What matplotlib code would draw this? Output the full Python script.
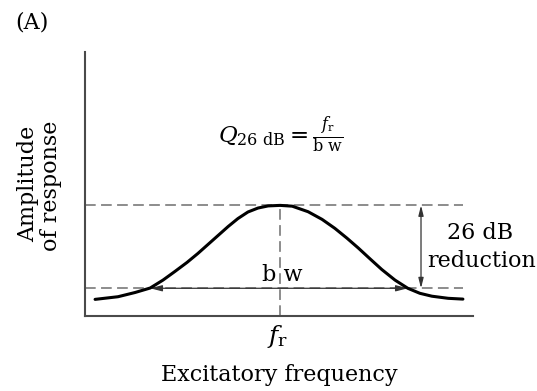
import matplotlib
matplotlib.use("Agg")
import matplotlib.pyplot as plt

plt.rcParams['font.family'] = ['DejaVu Serif']
plt.rcParams['mathtext.fontset'] = 'custom'
plt.rcParams['mathtext.rm'] = 'DejaVu Serif'
plt.rcParams['mathtext.it'] = 'DejaVu Serif:italic'

# tuning curve: excitatory frequency vs amplitude of response (axis units 0-10)
freq = [0.26, 0.85, 1.29, 1.68, 2.01, 2.32, 2.63, 2.91, 3.17, 3.43, 3.69, 3.94,
        4.20, 4.46, 4.72, 5.03, 5.34, 5.75, 6.11, 6.44, 6.75, 7.04, 7.35, 7.65,
        7.99, 8.32, 8.63, 8.94, 9.36, 9.74]
amp = [0.63, 0.73, 0.89, 1.06, 1.36, 1.69, 2.03, 2.37, 2.71, 3.05, 3.39, 3.69,
       3.94, 4.09, 4.17, 4.19, 4.16, 3.95, 3.66, 3.32, 2.95, 2.58, 2.16, 1.76,
       1.36, 1.05, 0.86, 0.75, 0.67, 0.64]

f_r = 5.03          # resonant frequency
peak = 4.19         # amplitude at f_r
level_26db = 1.05   # amplitude 26 dB below the peak
bw_low, bw_high = 1.68, 8.32

grey = '#6e6e6e'
dash = (0, (7, 3.5))
fs = 16

fig = plt.figure(figsize=(5.37, 3.91), dpi=100)
ax = fig.add_axes([85 / 537, 75 / 391, 388 / 537, 264 / 391])
ax.set_xlim(0, 10)
ax.set_ylim(0, 10)
ax.set_xticks([])
ax.set_yticks([])
for s in ['top', 'right']:
    ax.spines[s].set_visible(False)
for s in ['left', 'bottom']:
    ax.spines[s].set_color('#4a4a4a')
    ax.spines[s].set_linewidth(1.5)

# reference lines
ax.plot([0, 9.74], [peak, peak], color=grey, lw=1.1, ls=dash)
ax.plot([0, 9.74], [level_26db, level_26db], color=grey, lw=1.1, ls=dash)
ax.plot([f_r, f_r], [0, peak], color=grey, lw=1.1, ls=dash)

ax.plot(freq, amp, color='black', lw=2.2, solid_capstyle='round',
        solid_joinstyle='round', zorder=5)

# bandwidth arrow
ax.annotate('', xy=(bw_low, level_26db), xytext=(bw_high, level_26db),
            arrowprops=dict(arrowstyle='<|-|>,head_length=0.7,head_width=0.18',
                            color='#333333', lw=0.9, shrinkA=0, shrinkB=0))
fig.text(282 / 537, 1 - 275 / 391, 'b w', ha='center', va='center', fontsize=fs)

# 26 dB reduction arrow
x_red = 8.66
ax.annotate('', xy=(x_red, peak), xytext=(x_red, level_26db),
            arrowprops=dict(arrowstyle='<|-|>,head_length=0.6,head_width=0.15',
                            color='#333333', lw=0.9, shrinkA=0, shrinkB=0))
fig.text(480 / 537, 1 - 233 / 391, '26 dB', ha='center', va='center', fontsize=fs)
fig.text(482 / 537, 1 - 261 / 391, 'reduction', ha='center', va='center', fontsize=fs)

fig.text(281 / 537, 1 - 143 / 391,
         r'$Q_{\mathrm{26\ dB}} = \frac{f_{\mathrm{r}}}{\mathrm{b\ w}}$',
         ha='center', va='baseline', fontsize=16.5)

fig.text(278 / 537, 1 - 337 / 391, r'$f_{\mathrm{r}}$', ha='center', va='center',
         fontsize=18)
fig.text(279 / 537, 1 - 375 / 391, 'Excitatory frequency', ha='center', va='center',
         fontsize=fs)

fig.text(28 / 537, 1 - 184 / 391, 'Amplitude', rotation=90, ha='center',
         va='center', fontsize=fs)
fig.text(51 / 537, 1 - 186 / 391, 'of response', rotation=90, ha='center',
         va='center', fontsize=fs)

fig.text(15 / 537, 1 - 22 / 391, '(A)', ha='left', va='center', fontsize=fs)

fig.savefig('out.png', dpi=100)
